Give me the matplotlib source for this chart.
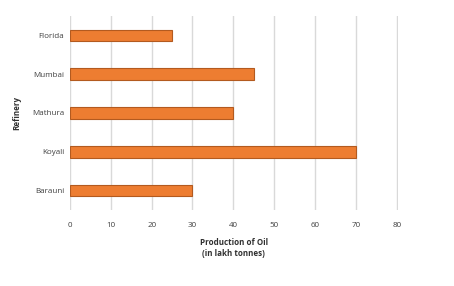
import matplotlib
matplotlib.use("Agg")
import matplotlib.pyplot as plt

# Data
refineries = ["Barauni", "Koyali", "Mathura", "Mumbai", "Florida"]
production = [30, 70, 40, 45, 25]
x_ticks = [0, 10, 20, 30, 40, 50, 60, 70, 80]

plt.rcParams['font.family'] = ['Open Sans', 'DejaVu Sans']

fig = plt.figure(figsize=(4.54, 2.86), dpi=100)
ax = fig.add_axes([0.154, 0.266, 0.7218, 0.678])

ax.barh(refineries, production, height=0.3, color='#ED7D31',
        edgecolor='#B35A1F', linewidth=0.8, zorder=3)

ax.set_xlim(0, 80.2)
ax.set_ylim(-0.5, 4.5)
ax.set_xticks(x_ticks)
ax.grid(axis='x', color='#d9d9d9', linewidth=1.0, zorder=0)
ax.grid(axis='y', visible=False)
for s in ax.spines.values():
    s.set_visible(False)
ax.tick_params(axis='both', length=0, labelsize=5.8, colors='#404040', pad=4)
ax.tick_params(axis='x', pad=9)

ax.set_xlabel("Production of Oil\n(in lakh tonnes)", fontsize=5.8,
              fontweight='bold', color='#303030', labelpad=6, linespacing=1.3)
ax.set_ylabel("Refinery", fontsize=5.8, fontweight='bold', color='#303030',
              labelpad=8)

fig.savefig("out.png", dpi=100)
